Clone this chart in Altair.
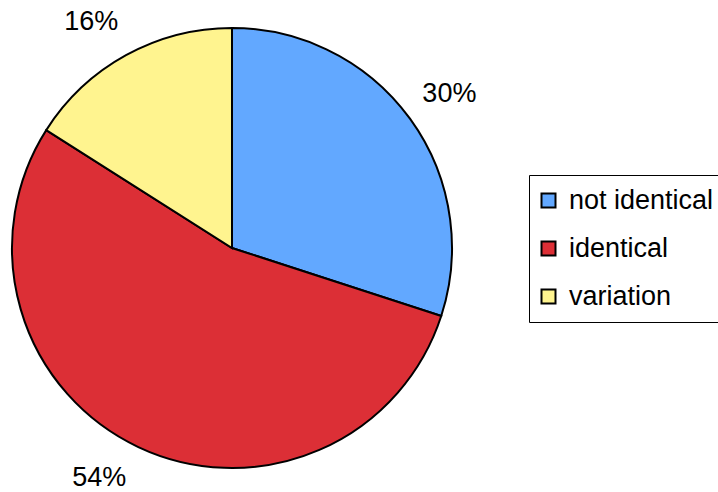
import altair as alt
import pandas as pd

categories = ["not identical", "identical", "variation"]
values = [30, 54, 16]
labels = ["30%", "54%", "16%"]
colors = ["#62A8FF", "#DC2F36", "#FFF48F"]

df = pd.DataFrame({
    "category": categories,
    "value": values,
    "label": labels,
    "order": list(range(len(categories))),
})

CX, CY, R = 232, 248, 220
FONT = "Liberation Sans"
FS = 27

color_scale = alt.Scale(domain=categories, range=colors)

pie = alt.Chart(df).mark_arc(x=CX, y=CY, outerRadius=R, stroke="black", strokeWidth=2).encode(
    theta=alt.Theta("value:Q", stack=True),
    order=alt.Order("order:Q"),
    color=alt.Color(
        "category:N",
        scale=color_scale,
        sort=categories,
        legend=alt.Legend(
            title=None,
            orient="none",
            legendX=529,
            legendY=175,
            symbolType="square",
            symbolSize=196,
            symbolStrokeColor="black",
            symbolStrokeWidth=2,
            symbolOffset=-6,
            labelFont=FONT,
            labelFontSize=FS,
            labelColor="black",
            labelLimit=400,
            labelOffset=7,
            rowPadding=20,
            padding=12,
            strokeColor="black",
        ),
    )
)

label_offsets = {"30%": (3, 2), "54%": (-20, -10), "16%": (-13, 6)}

text_base = (
    alt.Chart(df)
    .transform_window(cum="sum(value)", sort=[alt.SortField("order")])
    .transform_joinaggregate(total="sum(value)")
    .transform_calculate(mid="(datum.cum - datum.value / 2) / datum.total")
)

layers = [pie]
for lab, (dx, dy) in label_offsets.items():
    layers.append(
        text_base.mark_text(
            x=CX, y=CY, radius=265, dx=dx, dy=dy,
            font=FONT, fontSize=FS, color="black",
            align="center", baseline="middle",
        ).encode(
            theta=alt.Theta("mid:Q", stack=None,
                            scale=alt.Scale(domain=[0, 1], range=[0, 6.283185307179586])),
            text="label:N",
        ).transform_filter(alt.datum.label == lab)
    )

chart = alt.layer(*layers).resolve_scale(theta="independent").properties(
    width=718, height=492, padding=0,
    autosize=alt.AutoSizeParams(type="none"),
).configure_view(stroke=None).configure(background="white")

chart.save("out.html", embed_options={"renderer": "svg", "actions": False})
